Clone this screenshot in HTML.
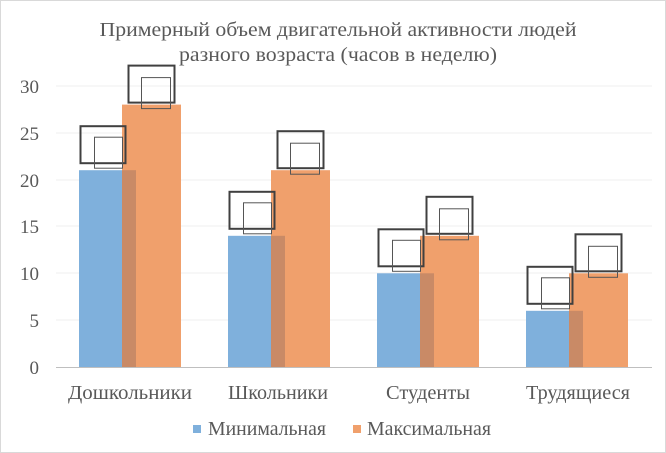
<!DOCTYPE html>
<html><head><meta charset="utf-8"><style>
html,body{margin:0;padding:0;background:#fff}
svg{display:block}
text{font-family:"Liberation Serif",serif;fill:#595959}
</style></head><body>
<svg width="666" height="453" viewBox="0 0 666 453">
<rect x="0.5" y="0.5" width="665" height="452" fill="#fff" stroke="#d9d9d9"/>
<text x="338" y="36" font-size="20" text-anchor="middle" textLength="477" lengthAdjust="spacingAndGlyphs">Примерный объем двигательной активности людей</text>
<text x="338" y="61" font-size="20" text-anchor="middle" textLength="318" lengthAdjust="spacingAndGlyphs">разного возраста (часов в неделю)</text>
<g stroke="#efefef" stroke-width="1">
<line x1="56" x2="652" y1="86" y2="86"/><line x1="56" x2="652" y1="133" y2="133"/>
<line x1="56" x2="652" y1="180" y2="180"/><line x1="56" x2="652" y1="226" y2="226"/>
<line x1="56" x2="652" y1="273" y2="273"/><line x1="56" x2="652" y1="320" y2="320"/>
</g>
<g font-size="19" text-anchor="end">
<text x="39" y="374">0</text><text x="39" y="327">5</text><text x="39" y="280">10</text>
<text x="39" y="233">15</text><text x="39" y="187">20</text><text x="39" y="140">25</text><text x="39" y="93">30</text>
</g>
<g>
<rect x="79" y="170.2" width="57" height="196.8" fill="#7fb0dc"/>
<rect x="122" y="104.6" width="59" height="262.4" fill="#f0a06c"/>
<rect x="122" y="170.2" width="14" height="196.8" fill="#c98a66"/>
<rect x="80.5" y="126.2" width="45" height="37" fill="none" stroke="#404040" stroke-width="2"/>
<rect x="94.5" y="137.2" width="28" height="31" fill="none" stroke="#555"/>
<rect x="128.5" y="65.6" width="46" height="37" fill="none" stroke="#404040" stroke-width="2"/>
<rect x="141.5" y="77.6" width="29" height="31" fill="none" stroke="#555"/>

<rect x="228" y="235.8" width="57" height="131.2" fill="#7fb0dc"/>
<rect x="271" y="170.2" width="59" height="196.8" fill="#f0a06c"/>
<rect x="271" y="235.8" width="14" height="131.2" fill="#c98a66"/>
<rect x="229.5" y="191.8" width="45" height="37" fill="none" stroke="#404040" stroke-width="2"/>
<rect x="243.5" y="202.8" width="28" height="31" fill="none" stroke="#555"/>
<rect x="277.5" y="131.2" width="46" height="37" fill="none" stroke="#404040" stroke-width="2"/>
<rect x="290.5" y="143.2" width="29" height="31" fill="none" stroke="#555"/>

<rect x="377" y="273.3" width="57" height="93.7" fill="#7fb0dc"/>
<rect x="420" y="235.8" width="59" height="131.2" fill="#f0a06c"/>
<rect x="420" y="273.3" width="14" height="93.7" fill="#c98a66"/>
<rect x="378.5" y="229.3" width="45" height="37" fill="none" stroke="#404040" stroke-width="2"/>
<rect x="392.5" y="240.3" width="28" height="31" fill="none" stroke="#555"/>
<rect x="426.5" y="196.8" width="46" height="37" fill="none" stroke="#404040" stroke-width="2"/>
<rect x="439.5" y="208.8" width="29" height="31" fill="none" stroke="#555"/>

<rect x="526" y="310.8" width="57" height="56.2" fill="#7fb0dc"/>
<rect x="569" y="273.3" width="59" height="93.7" fill="#f0a06c"/>
<rect x="569" y="310.8" width="14" height="56.2" fill="#c98a66"/>
<rect x="527.5" y="266.8" width="45" height="37" fill="none" stroke="#404040" stroke-width="2"/>
<rect x="541.5" y="277.8" width="28" height="31" fill="none" stroke="#555"/>
<rect x="575.5" y="234.3" width="46" height="37" fill="none" stroke="#404040" stroke-width="2"/>
<rect x="588.5" y="246.3" width="29" height="31" fill="none" stroke="#555"/>
</g>
<line x1="56" x2="652" y1="367.5" y2="367.5" stroke="#bfbfbf"/>
<g font-size="20" text-anchor="middle">
<text x="130" y="399" textLength="124" lengthAdjust="spacingAndGlyphs">Дошкольники</text>
<text x="278" y="399" textLength="100" lengthAdjust="spacingAndGlyphs">Школьники</text>
<text x="428" y="399" textLength="84" lengthAdjust="spacingAndGlyphs">Студенты</text>
<text x="578" y="399" textLength="104" lengthAdjust="spacingAndGlyphs">Трудящиеся</text>
</g>
<rect x="193" y="425" width="8" height="8" fill="#7fb0dc"/>
<text x="208" y="435" font-size="20" textLength="118" lengthAdjust="spacingAndGlyphs">Минимальная</text>
<rect x="353" y="425" width="8" height="8" fill="#f0a06c"/>
<text x="367" y="435" font-size="20" textLength="124" lengthAdjust="spacingAndGlyphs">Максимальная</text>
</svg>
</body></html>
